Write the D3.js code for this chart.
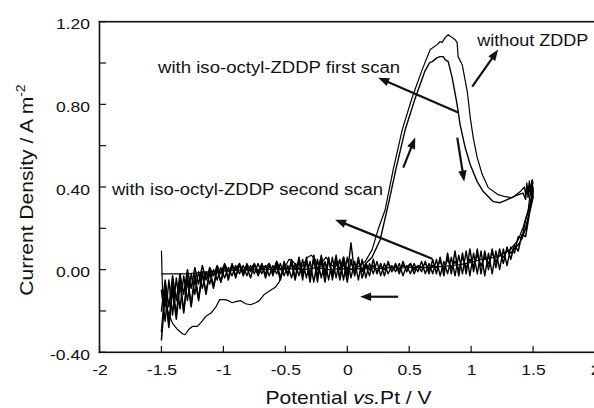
<!DOCTYPE html>
<html><head><meta charset="utf-8">
<script src="https://cdn.jsdelivr.net/npm/d3@7"></script>
<style>
body{margin:0;background:#fff}
svg{display:block}
text{font-family:"Liberation Sans",Arial,Helvetica,sans-serif;fill:#111}
</style>
</head><body>
<svg id="c" width="594" height="408"></svg>
<script>
// ---------- data ----------
const xTickValues = [-2,-1.5,-1,-0.5,0,0.5,1,1.5,2];
const yTickValues = [-0.4,-0.2,0,0.2,0.4,0.6,0.8,1.0,1.2];
const yLabelValues = [-0.4,0,0.4,0.8,1.2];

// shared potential grid for the noisy scans (V)
const potentialGrid = [-1.50,-1.47,-1.44,-1.41,-1.38,-1.35,-1.32,-1.29,-1.26,-1.23,
-1.20,-1.17,-1.14,-1.11,-1.08,-1.05,-1.02,-0.99,-0.96,-0.93,
-0.90,-0.87,-0.84,-0.81,-0.78,-0.75,-0.72,-0.69,-0.66,-0.63,
-0.60,-0.57,-0.54,-0.51,-0.48,-0.45,-0.42,-0.39,-0.36,-0.33,
-0.30,-0.27,-0.24,-0.21,-0.18,-0.15,-0.12,-0.09,-0.06,-0.03,
0.00,0.03,0.06,0.09,0.12,0.15,0.18,0.21,0.24,0.27,
0.30,0.33,0.36,0.39,0.42,0.45,0.48,0.51,0.54,0.57,
0.60,0.63,0.66,0.69,0.72,0.75,0.78,0.81,0.84,0.87,
0.90,0.93,0.96,0.99,1.02,1.05,1.08,1.11,1.14,1.17,
1.20,1.23,1.26,1.29,1.32,1.35,1.38,1.41,1.44,1.47,
1.50];

// without ZDDP : forward sweep
const noZddpFwdX = [-1.50,-1.495,-1.49,-1.45,-1.41,-1.37,-1.33,-1.31,-1.28,-1.25,-1.21,-1.18,-1.14,-1.10,-1.06,-1.03,-0.99,-0.96,-0.93,-0.90,-0.86,-0.82,-0.78,-0.74,-0.71,-0.67,-0.62,-0.58,-0.55,-0.52,-0.50,-0.47,-0.44,-0.41,-0.38,-0.35,-0.32,-0.29,-0.26,-0.23,-0.20,-0.17,-0.14,-0.10,-0.07,-0.04,0.00,0.04,0.08,0.12,0.145,0.201,0.249,0.306,0.371,0.444,0.524,0.605,0.670,0.726,0.750,0.766,0.790,0.815,0.847,0.871,0.887,0.895,0.928,0.969,0.993,1.017,1.049,1.090,1.138,1.219,1.275,1.332,1.397,1.43,1.44,1.45,1.46,1.47,1.48,1.494,1.50];
const noZddpFwdY = [0.09,-0.02,-0.13,-0.20,-0.26,-0.29,-0.31,-0.315,-0.29,-0.275,-0.275,-0.255,-0.225,-0.21,-0.18,-0.145,-0.145,-0.15,-0.16,-0.155,-0.15,-0.165,-0.17,-0.16,-0.15,-0.12,-0.10,-0.085,-0.06,-0.01,0.015,0.05,0.04,0.02,0.00,0.03,0.06,0.07,0.05,0.02,0.04,0.06,0.03,0.01,0.04,0.02,0.01,0.00,0.01,0.03,0.039,0.097,0.194,0.290,0.484,0.678,0.833,0.968,1.065,1.089,1.104,1.099,1.123,1.137,1.123,1.113,1.099,1.031,0.992,0.862,0.736,0.639,0.542,0.460,0.397,0.363,0.353,0.348,0.378,0.40,0.36,0.42,0.37,0.43,0.39,0.436,0.42];
// without ZDDP : reverse sweep
const noZddpRevX = [1.475,1.461,1.421,1.381,1.316,1.25,1.211,1.15,1.074,1.0,0.912,0.85,0.75,0.65,0.55,0.45,0.35,0.25,0.15,0.05,-0.05,-0.15,-0.25,-0.35,-0.5,-0.65,-0.8,-0.95,-1.1,-1.2,-1.3,-1.4,-1.5];
const noZddpRevY = [0.363,0.290,0.208,0.145,0.097,0.075,0.063,0.055,0.048,0.035,0.024,0.02,0.015,0.01,0.012,0.008,0.01,0.005,0.01,0.0,0.005,0.0,0.01,0.0,0.005,0.0,0.0,-0.005,-0.01,-0.015,-0.02,-0.02,-0.02];

// iso-octyl-ZDDP first scan : noisy forward part (on potentialGrid, first 56 points)
const firstFwdNoisyY = [-0.30,-0.08,-0.26,-0.06,-0.22,-0.04,-0.20,-0.03,-0.17,-0.02,
-0.14,-0.01,-0.11,0.00,-0.08,0.01,-0.06,0.02,-0.04,0.03,
-0.03,0.02,-0.02,0.03,-0.01,0.02,-0.03,0.01,-0.02,0.03,
-0.03,0.04,-0.04,0.03,-0.03,0.05,-0.04,0.04,-0.05,0.06,
-0.04,0.05,-0.06,0.07,-0.03,0.06,-0.05,0.05,-0.04,0.06,
-0.03,0.13,-0.02,0.04,0.00,0.03];
// first scan : oxidation peak
const firstPeakX = [0.20,0.266,0.340,0.392,0.468,0.545,0.625,0.665,0.686,0.726,0.750,0.775,0.790,0.815,0.847,0.887,0.911,0.952,0.993,1.049,1.098,1.179,1.235,1.292,1.381,1.42,1.44,1.45,1.46,1.47,1.48,1.49,1.50];
const firstPeakY = [0.06,0.145,0.339,0.484,0.678,0.823,0.958,1.002,1.007,1.026,1.031,1.031,1.016,1.007,0.929,0.799,0.702,0.591,0.508,0.426,0.378,0.329,0.324,0.339,0.363,0.37,0.34,0.40,0.35,0.41,0.36,0.43,0.38];
// first scan : reverse sweep (on potentialGrid, drawn from 1.5 back to -1.5)
const firstRevY = [-0.10,-0.25,-0.05,-0.22,-0.04,-0.19,-0.03,-0.15,-0.02,-0.12,
-0.01,-0.09,-0.01,-0.07,0.00,-0.05,0.01,-0.04,0.01,-0.03,
0.02,-0.02,0.02,-0.03,0.02,-0.02,0.03,-0.02,0.02,-0.03,
0.02,-0.02,0.03,-0.03,0.02,-0.04,0.03,-0.03,0.05,-0.04,
0.04,-0.06,0.05,-0.04,0.04,-0.05,0.06,-0.04,0.05,-0.05,
0.06,-0.04,0.04,-0.05,0.05,-0.04,0.03,-0.02,0.04,-0.03,
0.03,-0.02,0.02,-0.01,0.03,-0.03,0.02,-0.02,0.03,-0.01,
0.04,-0.02,0.03,-0.02,0.05,-0.03,0.04,-0.02,0.06,-0.03,
0.07,-0.02,0.09,-0.03,0.08,-0.02,0.09,-0.03,0.08,-0.02,
0.09,0.00,0.10,0.02,0.11,0.08,0.16,0.15,0.24,0.30,
0.40];

// iso-octyl-ZDDP second scan (on potentialGrid)
const secondFwdY = [-0.34,-0.12,-0.28,-0.10,-0.24,-0.07,-0.21,-0.05,-0.18,-0.04,
-0.15,-0.02,-0.12,-0.01,-0.09,0.00,-0.06,0.02,-0.05,0.02,
-0.04,0.03,-0.03,0.01,-0.04,0.03,-0.02,0.03,-0.04,0.02,
-0.02,0.02,-0.05,0.04,-0.02,0.03,-0.05,0.06,-0.03,0.04,
-0.06,0.07,-0.03,0.04,-0.06,0.05,-0.03,0.07,-0.05,0.04,
-0.06,0.05,-0.03,0.06,-0.04,0.02,-0.03,0.05,-0.02,0.03,
-0.03,0.04,-0.01,0.03,-0.02,0.04,-0.01,0.03,-0.02,0.02,
-0.01,0.04,-0.02,0.05,-0.02,0.06,-0.03,0.08,-0.02,0.09,
-0.03,0.08,-0.02,0.10,-0.01,0.10,-0.02,0.09,0.00,0.10,
0.01,0.10,0.03,0.11,0.05,0.12,0.09,0.17,0.16,0.27,
0.35];
const secondRevY = [-0.20,-0.05,-0.18,-0.03,-0.15,-0.02,-0.12,0.00,-0.09,0.01,
-0.07,0.02,-0.05,0.01,-0.03,0.02,-0.02,0.03,-0.01,0.02,
0.00,0.03,-0.01,0.02,0.00,0.03,-0.01,0.02,0.01,0.03,
-0.01,0.04,0.00,0.02,-0.02,0.03,0.00,0.05,-0.01,0.04,
-0.02,0.05,0.00,0.06,-0.01,0.04,-0.02,0.05,0.00,0.06,
-0.02,0.03,0.00,0.04,-0.01,0.03,0.00,0.02,-0.01,0.02,
0.00,0.03,-0.01,0.02,0.00,0.02,0.01,0.03,0.00,0.02,
0.01,0.03,0.00,0.02,0.01,0.04,0.00,0.05,0.01,0.04,
0.00,0.06,0.01,0.05,0.02,0.07,0.02,0.06,0.03,0.08,
0.04,0.07,0.06,0.09,0.08,0.10,0.12,0.15,0.20,0.28,
0.38];

// arrows (tail -> head), data units
const arrowTailX = [0.896,1.009,0.452,0.888,0.686,0.411];
const arrowTailY = [0.760,0.886,0.494,0.639,0.053,-0.131];
const arrowHeadX = [0.250,1.218,0.549,0.944,-0.098,0.104];
const arrowHeadY = [0.929,1.065,0.639,0.426,0.242,-0.131];

// annotation texts
const labelTexts = ["with iso-octyl-ZDDP first scan","without ZDDP","with iso-octyl-ZDDP second scan"];

// ---------- drawing ----------
const svg = d3.select("#c");
const x = d3.scaleLinear().domain([-2,2]).range([99.5,595]);
const y = d3.scaleLinear().domain([-0.4,1.2]).range([352.3,21.7]);
const K = 1.17; // horizontal glyph stretch
const INK = "#111";

const zip = (xs, ys) => xs.map((v,i)=>[v, ys[i]]);
const gridPts = ys => zip(potentialGrid.slice(0, ys.length), ys);

const curveNoZddp = zip(noZddpFwdX, noZddpFwdY).concat(zip(noZddpRevX, noZddpRevY));
const curveFirst = gridPts(firstFwdNoisyY)
  .concat(zip(firstPeakX, firstPeakY))
  .concat(gridPts(firstRevY).reverse());
const curveSecond = gridPts(secondFwdY).concat(gridPts(secondRevY).reverse());

const lineGen = d3.line().x(d=>x(d[0])).y(d=>y(d[1]));

// plot frame drawn as filled bars: left axis, bottom axis, top border
const X0 = x(-2), X1 = x(2), Y0 = y(-0.4), Y1 = y(1.2);
const frame = svg.append("g").attr("fill", INK);
frame.append("rect").attr("x", X0 - 0.8).attr("y", Y1 - 0.8).attr("width", 1.6).attr("height", Y0 - Y1 + 1.6);
frame.append("rect").attr("x", X0 - 0.8).attr("y", Y0 - 0.8).attr("width", X1 - X0 + 0.8).attr("height", 1.6);
frame.append("rect").attr("x", X0 - 0.8).attr("y", Y1 - 0.8).attr("width", X1 - X0 + 0.8).attr("height", 1.6);

// inward tick marks as small filled bars
xTickValues.forEach(v=>{
  frame.append("rect").attr("x", x(v) - 0.6).attr("y", Y0 - 6.5).attr("width", 1.2).attr("height", 6.5);
});
yTickValues.forEach(v=>{
  frame.append("rect").attr("x", X0).attr("y", y(v) - 0.6).attr("width", 6.5).attr("height", 1.2);
});

// tick labels via d3 axes (no lines)
const xAxis = d3.axisBottom(x).tickValues(xTickValues).tickSize(0)
  .tickPadding(12).tickFormat(d=>String(d));
const gx = svg.append("g").attr("transform",`translate(0,${Y0})`).call(xAxis);
gx.select(".domain").remove();
gx.selectAll(".tick line").remove();
gx.selectAll("text").attr("font-size",15).attr("fill",INK).attr("x",0).attr("y",12).attr("dy","0.71em")
  .attr("transform",`scale(${K},1)`);

const yAxis = d3.axisLeft(y).tickValues(yLabelValues).tickSize(0)
  .tickPadding(9).tickFormat(d => d.toFixed(2));
const gy = svg.append("g").attr("transform",`translate(${X0},0)`).call(yAxis);
gy.select(".domain").remove();
gy.selectAll(".tick line").remove();
gy.selectAll("text").attr("font-size",15).attr("fill",INK)
  .attr("x",-9.5/K).attr("dy",7).attr("transform",`scale(${K},1)`);

// curves
const plot = svg.append("g").attr("fill","none").attr("stroke","#000")
  .attr("stroke-linejoin","round").attr("stroke-linecap","round");
plot.append("path").attr("d",lineGen(curveSecond)).attr("stroke-width",1.5);
plot.append("path").attr("d",lineGen(curveFirst)).attr("stroke-width",1.4);
plot.append("path").attr("d",lineGen(curveNoZddp)).attr("stroke-width",1.2);

// arrows
const ag = svg.append("g");
arrowTailX.forEach((_,i)=>{
  const x1=x(arrowTailX[i]), y1=y(arrowTailY[i]), x2=x(arrowHeadX[i]), y2=y(arrowHeadY[i]);
  const dx=x2-x1, dy=y2-y1, L=Math.hypot(dx,dy), ux=dx/L, uy=dy/L;
  const hl=11, hw=4.2;
  const bx=x2-ux*hl, by=y2-uy*hl;
  ag.append("line").attr("x1",x1).attr("y1",y1).attr("x2",bx+ux*1).attr("y2",by+uy*1)
    .attr("stroke",INK).attr("stroke-width",2.2);
  ag.append("path").attr("d",`M${x2},${y2}L${bx-uy*hw},${by+ux*hw}L${bx+uy*hw},${by-ux*hw}Z`)
    .attr("fill",INK);
});

// annotations
const labelPos = [[-1.527,0.954,242],[1.049,1.084,111],[-1.899,0.363,271]];
labelTexts.forEach((t,i)=>{
  svg.append("text").attr("x",x(labelPos[i][0])).attr("y",y(labelPos[i][1]))
    .attr("font-size",16).attr("textLength",labelPos[i][2])
    .attr("lengthAdjust","spacingAndGlyphs").text(t);
});

// axis titles
const xt = svg.append("text").attr("font-size",18).attr("text-anchor","middle")
  .attr("transform",`translate(348.5,404) scale(${K},1)`);
xt.append("tspan").text("Potential ");
xt.append("tspan").attr("font-style","italic").text("vs.");
xt.append("tspan").text("Pt / V");

const yt = svg.append("text").attr("font-size",18).attr("text-anchor","middle")
  .attr("transform",`translate(33,190) rotate(-90) scale(${K},1)`);
yt.append("tspan").text("Current Density / A m");
yt.append("tspan").attr("font-size",12).attr("dy",-8).text("-2");
</script>
</body></html>
